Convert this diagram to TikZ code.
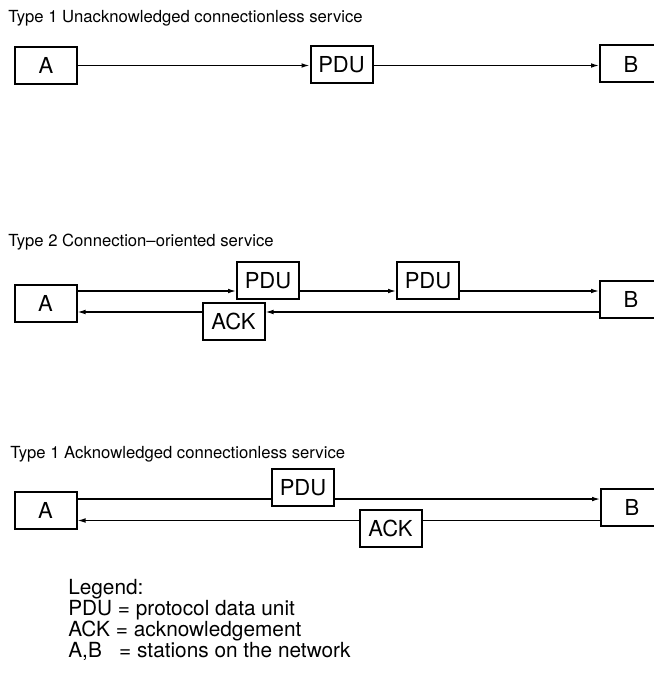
\documentclass[tikz,border=0pt]{standalone}
\usepackage{fontspec}
\setmainfont{TeX Gyre Heros}
\usetikzlibrary{arrows.meta}

\tikzset{
  station/.style={draw, rectangle, line width=1.5pt, minimum width=46.5pt,
    minimum height=27.75pt, inner sep=0pt, font=\fontsize{16.5}{19}\selectfont},
  title/.style={anchor=base west, inner sep=0pt, font=\fontsize{12.5}{15}\selectfont},
  legendtext/.style={anchor=base west, inner sep=0pt, font=\fontsize{15.6}{18}\selectfont},
  link/.style={line width=0.9pt}
}

\begin{document}
\begin{tikzpicture}[x=0.75pt, y=-0.75pt, >={Latex[length=6pt, width=3.5pt]}]
    \useasboundingbox (0,0) rectangle (653,674);

    % Type 1 无确认
    \node[title] (t1) at (8, 23) {Type 1 Unacknowledged connectionless service};
    \node[station] (A1) at (46, 65.5) {A};
    \node[station] (PDU1) at (341.5, 64.5) {PDU};
    \node[station] (B1) at (631, 64) {B};
    \draw[link, ->] (A1.east) coordinate (r1) -- (r1 -| PDU1.west);
    \draw[link, ->] (PDU1.east |- r1) -- (r1 -| B1.west);

    % Type 2 面向连接
    \node[title] (t2) at (8, 246) {Type 2 Connection--oriented service};
    \node[station] (A2) at (45.5, 303) {A};
    \node[station] (PDU2a) at (268, 280.5) {PDU};
    \node[station] (PDU2b) at (428, 280.5) {PDU};
    \node[station] (ACK2) at (233.5, 321.5) {ACK};
    \node[station] (B2) at (631, 299.5) {B};
    \draw[link, ->] ([yshift=9pt]A2.east) coordinate (u2) -- (u2 -| PDU2a.west);
    \draw[link, ->] (PDU2a.east |- u2) -- (u2 -| PDU2b.west);
    \draw[link, ->] (PDU2b.east |- u2) -- (u2 -| B2.west);
    \coordinate (d2) at ([yshift=-6.75pt]A2.east);
    \draw[link, ->] (B2.west |- d2) -- (d2 -| ACK2.east);
    \draw[link, ->] (ACK2.west |- d2) -- (d2);

    % Type 1 有确认
    \node[title] (t3) at (10, 458) {Type 1 Acknowledged connectionless service};
    \node[station] (A3) at (45.5, 510.5) {A};
    \node[station] (PDU3) at (303, 487.5) {PDU};
    \node[station] (ACK3) at (390.5, 528.5) {ACK};
    \node[station] (B3) at (632, 507.5) {B};
    \draw[link] ([yshift=8.6pt]A3.east) coordinate (u3) -- (u3 -| PDU3.west);
    \draw[link, ->] (PDU3.east |- u3) -- (u3 -| B3.west);
    \coordinate (d3) at ([yshift=-7.5pt]A3.east);
    \draw[link] (B3.west |- d3) -- (d3 -| ACK3.east);
    \draw[link, ->] (ACK3.west |- d3) -- (d3);

    % 图例
    \node[legendtext] (l0) at (68, 594) {Legend:};
    \node[legendtext] (l1) at (68, 615) {PDU = protocol data unit};
    \node[legendtext] (l2) at (68, 636) {ACK = acknowledgement};
    \node[legendtext] (l3) at (68, 657) {A,B\ \ \ = stations on the network};
\end{tikzpicture}
\end{document}
